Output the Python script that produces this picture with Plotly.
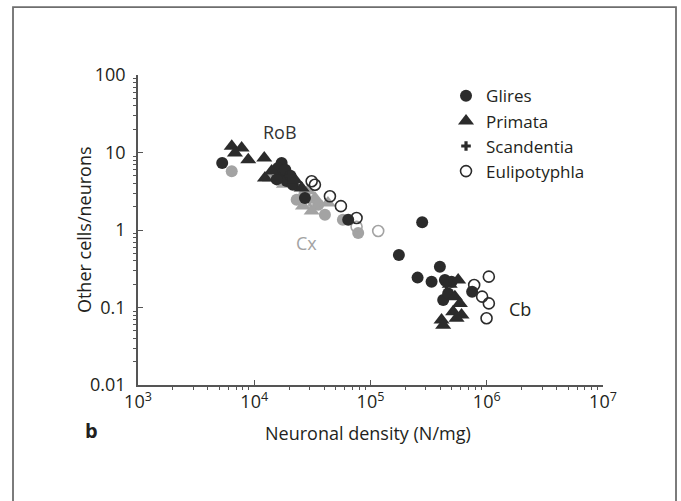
import plotly.graph_objects as go

# ---- data ----
# Glires, black (rest of brain + cerebellum)
glires_x = [5300, 17200, 16000, 17650, 19000, 15600, 21500, 27300, 64300, 18500, 20500,
            175500, 278400, 395300, 254100, 335200, 436500, 497900, 421900, 465600, 748600]
glires_y = [7.3, 7.3, 6.3, 5.4, 4.3, 4.5, 3.84, 2.59, 1.36, 6.0, 5.0,
            0.475, 1.26, 0.336, 0.243, 0.215, 0.226, 0.215, 0.125, 0.152, 0.160]
# Glires, grey (cerebral cortex)
glires_cx_x = [6400, 23160, 35500, 40540, 57900, 78400, 27000]
glires_cx_y = [5.72, 2.46, 2.12, 1.57, 1.36, 0.915, 2.9]

# Primata, black
primata_x = [6400, 7790, 6820, 8880, 12190, 12360, 14120, 22390, 25570,
             567700, 532000, 587300, 514000, 606900, 408400, 421900, 549900, 480000]
primata_y = [12.0, 11.4, 9.86, 8.07, 8.49, 4.69, 5.77, 4.46, 3.48,
             0.226, 0.138, 0.113, 0.088, 0.080, 0.069, 0.059, 0.0726, 0.2]
# Primata, grey
primata_cx_x = [13650, 26230, 33260, 31180, 43030, 29000, 18000]
primata_cx_y = [4.69, 2.04, 2.59, 1.76, 2.23, 3.2, 3.9]

# Scandentia
scand_x = [20000, 450000]
scand_y = [5.0, 0.2]
scand_cx_x = [30000]
scand_cx_y = [2.3]

# Eulipotyphla, black outline
euli_x = [31180, 33260, 44770, 55640, 75880, 1042000, 779400, 912300, 1042000, 995900]
euli_y = [4.25, 3.84, 2.72, 2.03, 1.43, 0.25, 0.195, 0.138, 0.113, 0.0726]
# Eulipotyphla, grey outline
euli_cx_x = [116500, 75880]
euli_cx_y = [0.97, 1.10]

x_ticks = [1e3, 1e4, 1e5, 1e6, 1e7]
x_ticktext = ["10<sup>3</sup>", "10<sup>4</sup>", "10<sup>5</sup>", "10<sup>6</sup>", "10<sup>7</sup>"]
y_ticks = [0.01, 0.1, 1, 10, 100]
y_ticktext = ["0.01", "0.1", "1", "10", "100"]

x_minor = [m * 10 ** e for e in range(3, 7) for m in range(2, 10)]
y_minor = [m * 10.0 ** e for e in range(-2, 2) for m in range(2, 10)]

BLACK = "#2b2b2b"
GREY = "#a3a3a3"
TXT = "#231f20"
FONT = "Open Sans"
FS = 18

fig = go.Figure()

def add(x, y, name, symbol, color, size, group, show, rank, line=None):
    marker = dict(symbol=symbol, color=color, size=size, line=dict(width=0))
    if line is not None:
        marker = dict(symbol=symbol, color=line, size=size, line=dict(width=1.6, color=line))
    fig.add_trace(go.Scatter(x=x, y=y, mode="markers", name=name, marker=marker,
                             legendgroup=group, showlegend=show, legendrank=rank))

# grey (cortex) first so black sits on top
add(glires_cx_x, glires_cx_y, "Glires", "circle", GREY, 12, "g", False, 1)
add(primata_cx_x, primata_cx_y, "Primata", "triangle-up", GREY, 14, "p", False, 2)
add(scand_cx_x, scand_cx_y, "Scandentia", "cross", GREY, 8, "s", False, 3)
add(euli_cx_x, euli_cx_y, "Eulipotyphla", "circle-open", GREY, 11, "e", False, 4, line=GREY)
add(glires_x, glires_y, "Glires", "circle", BLACK, 12, "g", True, 1)
add(primata_x, primata_y, "Primata", "triangle-up", BLACK, 14, "p", True, 2)
add(scand_x, scand_y, "Scandentia", "cross", BLACK, 8, "s", True, 3)
add(euli_x, euli_y, "Eulipotyphla", "circle-open", BLACK, 11, "e", True, 4, line=BLACK)

axis_common = dict(
    type="log", showgrid=False, zeroline=False,
    showline=True, linecolor="#555555", linewidth=1.5,
    ticks="inside", ticklen=5, tickwidth=1.3, tickcolor="#555555",
    tickfont=dict(family=FONT, size=FS, color=TXT),
)

fig.update_xaxes(range=[3, 7], tickvals=x_ticks, ticktext=x_ticktext,
                 ticklabelstandoff=0,
                 minor=dict(tickmode="array", tickvals=x_minor, ticks="outside", ticklen=3,
                            tickwidth=1, tickcolor="#555555", showgrid=False),
                 **axis_common)
fig.update_yaxes(range=[-2, 2], tickvals=y_ticks, ticktext=y_ticktext,
                 ticklabelstandoff=7,
                 minor=dict(tickmode="array", tickvals=y_minor, ticks="outside", ticklen=3,
                            tickwidth=1, tickcolor="#555555", showgrid=False),
                 **axis_common)

ann_font = dict(family=FONT, size=FS, color=TXT)
common = dict(xref="paper", yref="paper", showarrow=False, xanchor="center", yanchor="middle")
annotations = [
    dict(text="Other cells/neurons", x=-0.116, y=0.5, textangle=-90, font=ann_font, **common),
    dict(text="Neuronal density (N/mg)", x=0.4946, y=-0.155, font=ann_font, **common),
    dict(text="<b>b</b>", x=-0.101, y=-0.148, font=dict(family=FONT, size=20, color=TXT), **common),
    dict(text="RoB", x=0.3054, y=0.816, font=dict(family=FONT, size=FS, color="#333333"), **common),
    dict(text="Cx", x=0.3634, y=0.458, font=dict(family=FONT, size=FS, color=GREY), **common),
    dict(text="Cb", x=0.8215, y=0.245, font=dict(family=FONT, size=FS, color=TXT), **common),
]

fig.update_layout(
    width=681, height=501,
    margin=dict(l=138, r=78, t=75, b=116),
    paper_bgcolor="white", plot_bgcolor="white",
    font=dict(family=FONT, color=TXT),
    annotations=annotations,
    legend=dict(x=0.6624, y=0.9895, xanchor="left", yanchor="top",
                traceorder="grouped", tracegroupgap=0,
                font=dict(family=FONT, size=17, color=TXT),
                bgcolor="rgba(0,0,0,0)", itemwidth=30),
    shapes=[dict(type="rect", xref="paper", yref="paper",
                 x0=-0.2688, x1=1.157, y0=-0.45, y1=1.219,
                 line=dict(color="#6e6e6e", width=1.8), fillcolor="rgba(0,0,0,0)",
                 layer="above")],
)

# remove the browser's default 8px body margin so the figure sits at the page corner
fig.write_html("out.html", config={"displayModeBar": False},
               post_script="document.body.style.margin='0px';")
